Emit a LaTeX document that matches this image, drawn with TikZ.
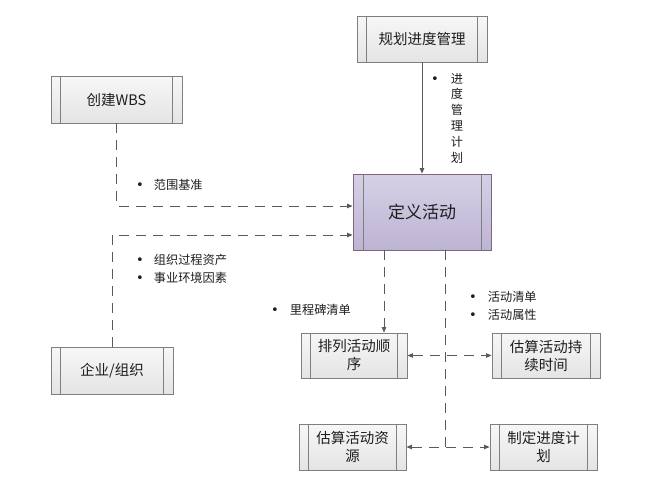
\documentclass[tikz,border=0pt]{standalone}
\usepackage{fontspec}
\setmainfont{Noto Sans CJK SC}
\newfontfamily\bulfont{DejaVu Sans}
\newcommand{\bul}{{\bulfont\fontsize{13}{18}\selectfont •}}
\usetikzlibrary{arrows.meta,calc}
\definecolor{boxline}{HTML}{7F7F7F}
\definecolor{conn}{HTML}{5A5A5A}
\definecolor{txt}{HTML}{1E1E1E}
\definecolor{gtop}{HTML}{F7F7F7}
\definecolor{gbot}{HTML}{E4E4E4}
\definecolor{ptop}{HTML}{D6D0E6}
\definecolor{pbot}{HTML}{BDB4D3}
\tikzset{
  proc/.style={draw=boxline, line width=0.9pt, top color=gtop, bottom color=gbot,
    text=txt, font=\fontsize{14.5}{18}\selectfont, align=center, inner sep=0pt,
    path picture={
      \draw[boxline, line width=0.9pt] ([xshift=#1]path picture bounding box.north west) -- ([xshift=#1]path picture bounding box.south west);
      \draw[boxline, line width=0.9pt] ([xshift=-#1]path picture bounding box.north east) -- ([xshift=-#1]path picture bounding box.south east);
    }},
  proc/.default=9.5pt,
  mainproc/.style={proc=10pt, top color=ptop, bottom color=pbot, draw=boxline!80!violet,
    font=\fontsize{17}{20}\selectfont},
  conline/.style={draw=conn, line width=0.8pt, -{Triangle[length=5.5pt,width=4.5pt]}},
  dashline/.style={conline, dash pattern=on 10pt off 7pt},
  lbl/.style={text=txt, font=\fontsize{12.2}{18}\selectfont, align=left, inner sep=0pt, anchor=west},
}
\begin{document}
\begin{tikzpicture}[x=1pt,y=-1pt]
\useasboundingbox[fill=white] (0,0) rectangle (651,483);
% boxes
\node[proc, minimum width=130pt, minimum height=46pt] (guihua) at (422,39) {规划进度管理};
\node[proc, minimum width=131pt, minimum height=47pt] (wbs) at (116.5,99.5) {创建WBS};
\node[mainproc, minimum width=138pt, minimum height=76pt] (dingyi) at (422,212) {定义活动};
\node[proc, minimum width=122pt, minimum height=47pt] (qiye) at (112,370.5) {企业/组织};
\node[proc, minimum width=106pt, minimum height=45pt] (paixu) at (354,355.5) {排列活动顺\\序};
\node[proc, minimum width=108pt, minimum height=45pt] (chixu) at (546,355.5) {估算活动持\\续时间};
\node[proc, minimum width=107pt, minimum height=46pt] (ziyuan) at (352.5,447) {估算活动资\\源};
\node[proc, minimum width=107pt, minimum height=46pt] (zhiding) at (543.5,447) {制定进度计\\划};
% helper coordinates
\coordinate (p1) at ([xshift=30pt]paixu.north);
\coordinate (j) at ([xshift=23pt]dingyi.south |- ziyuan.east);
% connectors
\draw[conline] (guihua.south) -- (dingyi.north);
\draw[dashline] (wbs.south) |- ([yshift=6pt]dingyi.west);
\draw[dashline] (qiye.north) |- ([yshift=-23pt]dingyi.west);
\draw[dashline] (dingyi.south -| p1) -- (p1);
\draw[conn, line width=0.8pt, dash pattern=on 10pt off 7pt] (dingyi.south -| j) -- (j);
\draw[dashline, {Triangle[length=5.5pt,width=4.5pt]}-{Triangle[length=5.5pt,width=4.5pt]}] (paixu.east) -- (chixu.west);
\draw[dashline, {Triangle[length=5.5pt,width=4.5pt]}-{Triangle[length=5.5pt,width=4.5pt]}] (ziyuan.east) -- (zhiding.west);
% labels
\node[lbl] (l1) at (136,185) {\bul\hspace{10pt}范围基准};
\node[lbl] (l2) at (136,269) {\bul\hspace{10pt}组织过程资产\\\bul\hspace{10pt}事业环境因素};
\node[lbl] (l3) at (271,310) {\bul\hspace{11pt}里程碑清单};
\node[lbl] (l4) at (469,306) {\bul\hspace{11pt}活动清单\\\bul\hspace{11pt}活动属性};
\node[lbl, anchor=center] (l5b) at (435,80) {\bul};
\node[text=txt, font=\fontsize{12.2}{15.8}\selectfont, align=center, inner sep=0pt] (l5) at (457,118) {进\\度\\管\\理\\计\\划};
\end{tikzpicture}
\end{document}
